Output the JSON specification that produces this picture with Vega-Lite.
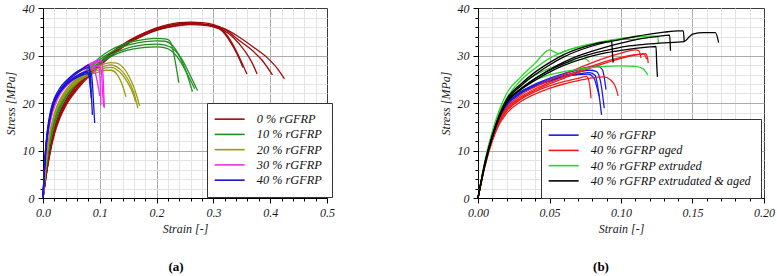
{
"$schema": "https://vega.github.io/schema/vega-lite/v6.json",
"background": "white",
"padding": {"left": 3, "top": 1, "right": 5, "bottom": 0},
"datasets": {
"a": [
{"s":"0 % rGFRP","c":"r1","x":0,"y":0},{"s":"0 % rGFRP","c":"r1","x":0.005,"y":4.6},{"s":"0 % rGFRP","c":"r1","x":0.01,"y":8.6},{"s":"0 % rGFRP","c":"r1","x":0.02,"y":14.4},{"s":"0 % rGFRP","c":"r1","x":0.03,"y":17.9},{"s":"0 % rGFRP","c":"r1","x":0.04,"y":20.3},{"s":"0 % rGFRP","c":"r1","x":0.06,"y":23.6},{"s":"0 % rGFRP","c":"r1","x":0.08,"y":26.1},{"s":"0 % rGFRP","c":"r1","x":0.1,"y":28.4},{"s":"0 % rGFRP","c":"r1","x":0.12,"y":30.4},{"s":"0 % rGFRP","c":"r1","x":0.14,"y":32.1},{"s":"0 % rGFRP","c":"r1","x":0.16,"y":33.5},{"s":"0 % rGFRP","c":"r1","x":0.18,"y":34.7},{"s":"0 % rGFRP","c":"r1","x":0.2,"y":35.6},{"s":"0 % rGFRP","c":"r1","x":0.22,"y":36.2},{"s":"0 % rGFRP","c":"r1","x":0.24,"y":36.6},{"s":"0 % rGFRP","c":"r1","x":0.26,"y":36.8},{"s":"0 % rGFRP","c":"r1","x":0.28,"y":36.6},{"s":"0 % rGFRP","c":"r1","x":0.3,"y":36},{"s":"0 % rGFRP","c":"r1","x":0.315,"y":35.2},{"s":"0 % rGFRP","c":"r1","x":0.33,"y":32.8},{"s":"0 % rGFRP","c":"r1","x":0.342,"y":30.2},{"s":"0 % rGFRP","c":"r1","x":0.352,"y":27.5},
{"s":"0 % rGFRP","c":"r2","x":0,"y":0},{"s":"0 % rGFRP","c":"r2","x":0.005,"y":4.4},{"s":"0 % rGFRP","c":"r2","x":0.01,"y":8.3},{"s":"0 % rGFRP","c":"r2","x":0.02,"y":14.0},{"s":"0 % rGFRP","c":"r2","x":0.03,"y":17.5},{"s":"0 % rGFRP","c":"r2","x":0.04,"y":19.9},{"s":"0 % rGFRP","c":"r2","x":0.06,"y":23.2},{"s":"0 % rGFRP","c":"r2","x":0.08,"y":25.8},{"s":"0 % rGFRP","c":"r2","x":0.1,"y":28.1},{"s":"0 % rGFRP","c":"r2","x":0.12,"y":30.1},{"s":"0 % rGFRP","c":"r2","x":0.14,"y":31.8},{"s":"0 % rGFRP","c":"r2","x":0.16,"y":33.2},{"s":"0 % rGFRP","c":"r2","x":0.18,"y":34.4},{"s":"0 % rGFRP","c":"r2","x":0.2,"y":35.3},{"s":"0 % rGFRP","c":"r2","x":0.22,"y":35.9},{"s":"0 % rGFRP","c":"r2","x":0.24,"y":36.3},{"s":"0 % rGFRP","c":"r2","x":0.26,"y":36.5},{"s":"0 % rGFRP","c":"r2","x":0.28,"y":36.4},{"s":"0 % rGFRP","c":"r2","x":0.3,"y":36.1},{"s":"0 % rGFRP","c":"r2","x":0.315,"y":35.4},{"s":"0 % rGFRP","c":"r2","x":0.33,"y":33.2},{"s":"0 % rGFRP","c":"r2","x":0.345,"y":29.8},{"s":"0 % rGFRP","c":"r2","x":0.359,"y":26.1},
{"s":"0 % rGFRP","c":"r3","x":0,"y":0},{"s":"0 % rGFRP","c":"r3","x":0.005,"y":4.7},{"s":"0 % rGFRP","c":"r3","x":0.01,"y":8.8},{"s":"0 % rGFRP","c":"r3","x":0.02,"y":14.7},{"s":"0 % rGFRP","c":"r3","x":0.03,"y":18.2},{"s":"0 % rGFRP","c":"r3","x":0.04,"y":20.6},{"s":"0 % rGFRP","c":"r3","x":0.06,"y":23.9},{"s":"0 % rGFRP","c":"r3","x":0.08,"y":26.4},{"s":"0 % rGFRP","c":"r3","x":0.1,"y":28.6},{"s":"0 % rGFRP","c":"r3","x":0.12,"y":30.6},{"s":"0 % rGFRP","c":"r3","x":0.14,"y":32.3},{"s":"0 % rGFRP","c":"r3","x":0.16,"y":33.7},{"s":"0 % rGFRP","c":"r3","x":0.18,"y":34.8},{"s":"0 % rGFRP","c":"r3","x":0.2,"y":35.7},{"s":"0 % rGFRP","c":"r3","x":0.22,"y":36.3},{"s":"0 % rGFRP","c":"r3","x":0.24,"y":36.7},{"s":"0 % rGFRP","c":"r3","x":0.26,"y":36.8},{"s":"0 % rGFRP","c":"r3","x":0.28,"y":36.6},{"s":"0 % rGFRP","c":"r3","x":0.3,"y":36.2},{"s":"0 % rGFRP","c":"r3","x":0.315,"y":35.5},{"s":"0 % rGFRP","c":"r3","x":0.335,"y":33.8},{"s":"0 % rGFRP","c":"r3","x":0.355,"y":31},{"s":"0 % rGFRP","c":"r3","x":0.368,"y":28.5},{"s":"0 % rGFRP","c":"r3","x":0.377,"y":26.1},
{"s":"0 % rGFRP","c":"r4","x":0,"y":0},{"s":"0 % rGFRP","c":"r4","x":0.005,"y":4.3},{"s":"0 % rGFRP","c":"r4","x":0.01,"y":8.1},{"s":"0 % rGFRP","c":"r4","x":0.02,"y":13.8},{"s":"0 % rGFRP","c":"r4","x":0.03,"y":17.3},{"s":"0 % rGFRP","c":"r4","x":0.04,"y":19.8},{"s":"0 % rGFRP","c":"r4","x":0.06,"y":23.2},{"s":"0 % rGFRP","c":"r4","x":0.08,"y":25.9},{"s":"0 % rGFRP","c":"r4","x":0.1,"y":28.2},{"s":"0 % rGFRP","c":"r4","x":0.12,"y":30.3},{"s":"0 % rGFRP","c":"r4","x":0.14,"y":32.1},{"s":"0 % rGFRP","c":"r4","x":0.16,"y":33.6},{"s":"0 % rGFRP","c":"r4","x":0.18,"y":34.8},{"s":"0 % rGFRP","c":"r4","x":0.2,"y":35.8},{"s":"0 % rGFRP","c":"r4","x":0.22,"y":36.5},{"s":"0 % rGFRP","c":"r4","x":0.24,"y":36.9},{"s":"0 % rGFRP","c":"r4","x":0.26,"y":37.0},{"s":"0 % rGFRP","c":"r4","x":0.28,"y":36.9},{"s":"0 % rGFRP","c":"r4","x":0.3,"y":36.5},{"s":"0 % rGFRP","c":"r4","x":0.32,"y":35.5},{"s":"0 % rGFRP","c":"r4","x":0.345,"y":33.2},{"s":"0 % rGFRP","c":"r4","x":0.365,"y":31.4},{"s":"0 % rGFRP","c":"r4","x":0.385,"y":29.1},{"s":"0 % rGFRP","c":"r4","x":0.404,"y":25.9},
{"s":"0 % rGFRP","c":"r5","x":0,"y":0},{"s":"0 % rGFRP","c":"r5","x":0.005,"y":4.2},{"s":"0 % rGFRP","c":"r5","x":0.01,"y":7.9},{"s":"0 % rGFRP","c":"r5","x":0.02,"y":13.4},{"s":"0 % rGFRP","c":"r5","x":0.03,"y":16.9},{"s":"0 % rGFRP","c":"r5","x":0.04,"y":19.4},{"s":"0 % rGFRP","c":"r5","x":0.06,"y":22.8},{"s":"0 % rGFRP","c":"r5","x":0.08,"y":25.5},{"s":"0 % rGFRP","c":"r5","x":0.1,"y":27.8},{"s":"0 % rGFRP","c":"r5","x":0.12,"y":29.9},{"s":"0 % rGFRP","c":"r5","x":0.14,"y":31.7},{"s":"0 % rGFRP","c":"r5","x":0.16,"y":33.2},{"s":"0 % rGFRP","c":"r5","x":0.18,"y":34.4},{"s":"0 % rGFRP","c":"r5","x":0.2,"y":35.4},{"s":"0 % rGFRP","c":"r5","x":0.22,"y":36.0},{"s":"0 % rGFRP","c":"r5","x":0.24,"y":36.4},{"s":"0 % rGFRP","c":"r5","x":0.26,"y":36.6},{"s":"0 % rGFRP","c":"r5","x":0.28,"y":36.6},{"s":"0 % rGFRP","c":"r5","x":0.3,"y":36.3},{"s":"0 % rGFRP","c":"r5","x":0.32,"y":35.6},{"s":"0 % rGFRP","c":"r5","x":0.345,"y":33.9},{"s":"0 % rGFRP","c":"r5","x":0.37,"y":31.8},{"s":"0 % rGFRP","c":"r5","x":0.395,"y":29.5},{"s":"0 % rGFRP","c":"r5","x":0.413,"y":27.2},{"s":"0 % rGFRP","c":"r5","x":0.425,"y":25.1},
{"s":"10 % rGFRP","c":"g1","x":0,"y":0},{"s":"10 % rGFRP","c":"g1","x":0.005,"y":6.3},{"s":"10 % rGFRP","c":"g1","x":0.01,"y":11},{"s":"10 % rGFRP","c":"g1","x":0.02,"y":16.5},{"s":"10 % rGFRP","c":"g1","x":0.03,"y":19.8},{"s":"10 % rGFRP","c":"g1","x":0.04,"y":22},{"s":"10 % rGFRP","c":"g1","x":0.06,"y":25},{"s":"10 % rGFRP","c":"g1","x":0.08,"y":27.4},{"s":"10 % rGFRP","c":"g1","x":0.1,"y":29.6},{"s":"10 % rGFRP","c":"g1","x":0.12,"y":31.2},{"s":"10 % rGFRP","c":"g1","x":0.14,"y":32.3},{"s":"10 % rGFRP","c":"g1","x":0.16,"y":33},{"s":"10 % rGFRP","c":"g1","x":0.18,"y":33.4},{"s":"10 % rGFRP","c":"g1","x":0.2,"y":33.6},{"s":"10 % rGFRP","c":"g1","x":0.215,"y":33.5},{"s":"10 % rGFRP","c":"g1","x":0.222,"y":33.2},{"s":"10 % rGFRP","c":"g1","x":0.228,"y":31.6},{"s":"10 % rGFRP","c":"g1","x":0.233,"y":28.6},{"s":"10 % rGFRP","c":"g1","x":0.239,"y":24.3},
{"s":"10 % rGFRP","c":"g2","x":0,"y":0},{"s":"10 % rGFRP","c":"g2","x":0.005,"y":6},{"s":"10 % rGFRP","c":"g2","x":0.01,"y":10.6},{"s":"10 % rGFRP","c":"g2","x":0.02,"y":16},{"s":"10 % rGFRP","c":"g2","x":0.03,"y":19.3},{"s":"10 % rGFRP","c":"g2","x":0.04,"y":21.5},{"s":"10 % rGFRP","c":"g2","x":0.06,"y":24.6},{"s":"10 % rGFRP","c":"g2","x":0.08,"y":27},{"s":"10 % rGFRP","c":"g2","x":0.1,"y":29.1},{"s":"10 % rGFRP","c":"g2","x":0.12,"y":30.7},{"s":"10 % rGFRP","c":"g2","x":0.14,"y":31.8},{"s":"10 % rGFRP","c":"g2","x":0.16,"y":32.5},{"s":"10 % rGFRP","c":"g2","x":0.18,"y":32.9},{"s":"10 % rGFRP","c":"g2","x":0.2,"y":33.1},{"s":"10 % rGFRP","c":"g2","x":0.215,"y":33},{"s":"10 % rGFRP","c":"g2","x":0.228,"y":32.1},{"s":"10 % rGFRP","c":"g2","x":0.24,"y":29.9},{"s":"10 % rGFRP","c":"g2","x":0.252,"y":26.6},{"s":"10 % rGFRP","c":"g2","x":0.263,"y":22.4},
{"s":"10 % rGFRP","c":"g3","x":0,"y":0},{"s":"10 % rGFRP","c":"g3","x":0.005,"y":5.7},{"s":"10 % rGFRP","c":"g3","x":0.01,"y":10.2},{"s":"10 % rGFRP","c":"g3","x":0.02,"y":15.5},{"s":"10 % rGFRP","c":"g3","x":0.03,"y":18.8},{"s":"10 % rGFRP","c":"g3","x":0.04,"y":21.1},{"s":"10 % rGFRP","c":"g3","x":0.06,"y":24.2},{"s":"10 % rGFRP","c":"g3","x":0.08,"y":26.6},{"s":"10 % rGFRP","c":"g3","x":0.1,"y":28.7},{"s":"10 % rGFRP","c":"g3","x":0.12,"y":30.2},{"s":"10 % rGFRP","c":"g3","x":0.14,"y":31.2},{"s":"10 % rGFRP","c":"g3","x":0.16,"y":31.9},{"s":"10 % rGFRP","c":"g3","x":0.18,"y":32.3},{"s":"10 % rGFRP","c":"g3","x":0.2,"y":32.4},{"s":"10 % rGFRP","c":"g3","x":0.215,"y":32.2},{"s":"10 % rGFRP","c":"g3","x":0.23,"y":31.3},{"s":"10 % rGFRP","c":"g3","x":0.243,"y":29.5},{"s":"10 % rGFRP","c":"g3","x":0.258,"y":26.1},{"s":"10 % rGFRP","c":"g3","x":0.272,"y":22.6},
{"s":"10 % rGFRP","c":"g4","x":0,"y":0},{"s":"10 % rGFRP","c":"g4","x":0.005,"y":5.9},{"s":"10 % rGFRP","c":"g4","x":0.01,"y":10.4},{"s":"10 % rGFRP","c":"g4","x":0.02,"y":15.8},{"s":"10 % rGFRP","c":"g4","x":0.03,"y":19},{"s":"10 % rGFRP","c":"g4","x":0.04,"y":21.3},{"s":"10 % rGFRP","c":"g4","x":0.06,"y":24.3},{"s":"10 % rGFRP","c":"g4","x":0.08,"y":26.5},{"s":"10 % rGFRP","c":"g4","x":0.1,"y":28.4},{"s":"10 % rGFRP","c":"g4","x":0.12,"y":29.8},{"s":"10 % rGFRP","c":"g4","x":0.14,"y":30.8},{"s":"10 % rGFRP","c":"g4","x":0.16,"y":31.4},{"s":"10 % rGFRP","c":"g4","x":0.18,"y":31.7},{"s":"10 % rGFRP","c":"g4","x":0.2,"y":31.8},{"s":"10 % rGFRP","c":"g4","x":0.215,"y":31.6},{"s":"10 % rGFRP","c":"g4","x":0.228,"y":30.8},{"s":"10 % rGFRP","c":"g4","x":0.24,"y":29.1},{"s":"10 % rGFRP","c":"g4","x":0.255,"y":25.9},{"s":"10 % rGFRP","c":"g4","x":0.267,"y":23},
{"s":"20 % rGFRP","c":"o1","x":0,"y":0},{"s":"20 % rGFRP","c":"o1","x":0.005,"y":7.2},{"s":"20 % rGFRP","c":"o1","x":0.01,"y":12.3},{"s":"20 % rGFRP","c":"o1","x":0.02,"y":17.8},{"s":"20 % rGFRP","c":"o1","x":0.03,"y":20.8},{"s":"20 % rGFRP","c":"o1","x":0.04,"y":22.7},{"s":"20 % rGFRP","c":"o1","x":0.06,"y":25.3},{"s":"20 % rGFRP","c":"o1","x":0.08,"y":27},{"s":"20 % rGFRP","c":"o1","x":0.1,"y":27.9},{"s":"20 % rGFRP","c":"o1","x":0.11,"y":28.3},{"s":"20 % rGFRP","c":"o1","x":0.12,"y":28.5},{"s":"20 % rGFRP","c":"o1","x":0.13,"y":28.4},{"s":"20 % rGFRP","c":"o1","x":0.14,"y":27.6},{"s":"20 % rGFRP","c":"o1","x":0.15,"y":25.9},{"s":"20 % rGFRP","c":"o1","x":0.16,"y":23.3},{"s":"20 % rGFRP","c":"o1","x":0.166,"y":21.1},{"s":"20 % rGFRP","c":"o1","x":0.17,"y":19.4},
{"s":"20 % rGFRP","c":"o2","x":0,"y":0},{"s":"20 % rGFRP","c":"o2","x":0.005,"y":7},{"s":"20 % rGFRP","c":"o2","x":0.01,"y":12},{"s":"20 % rGFRP","c":"o2","x":0.02,"y":17.5},{"s":"20 % rGFRP","c":"o2","x":0.03,"y":20.5},{"s":"20 % rGFRP","c":"o2","x":0.04,"y":22.4},{"s":"20 % rGFRP","c":"o2","x":0.06,"y":24.9},{"s":"20 % rGFRP","c":"o2","x":0.08,"y":26.6},{"s":"20 % rGFRP","c":"o2","x":0.1,"y":27.4},{"s":"20 % rGFRP","c":"o2","x":0.11,"y":27.8},{"s":"20 % rGFRP","c":"o2","x":0.12,"y":28},{"s":"20 % rGFRP","c":"o2","x":0.13,"y":27.6},{"s":"20 % rGFRP","c":"o2","x":0.14,"y":26.6},{"s":"20 % rGFRP","c":"o2","x":0.15,"y":24.9},{"s":"20 % rGFRP","c":"o2","x":0.16,"y":22.1},{"s":"20 % rGFRP","c":"o2","x":0.167,"y":18.9},
{"s":"20 % rGFRP","c":"o3","x":0,"y":0},{"s":"20 % rGFRP","c":"o3","x":0.005,"y":6.8},{"s":"20 % rGFRP","c":"o3","x":0.01,"y":11.7},{"s":"20 % rGFRP","c":"o3","x":0.02,"y":17.1},{"s":"20 % rGFRP","c":"o3","x":0.03,"y":20},{"s":"20 % rGFRP","c":"o3","x":0.04,"y":21.9},{"s":"20 % rGFRP","c":"o3","x":0.06,"y":24.3},{"s":"20 % rGFRP","c":"o3","x":0.08,"y":25.8},{"s":"20 % rGFRP","c":"o3","x":0.1,"y":26.6},{"s":"20 % rGFRP","c":"o3","x":0.11,"y":26.9},{"s":"20 % rGFRP","c":"o3","x":0.12,"y":26.9},{"s":"20 % rGFRP","c":"o3","x":0.13,"y":26.1},{"s":"20 % rGFRP","c":"o3","x":0.138,"y":24.3},{"s":"20 % rGFRP","c":"o3","x":0.146,"y":21.3},
{"s":"20 % rGFRP","c":"o4","x":0,"y":0},{"s":"20 % rGFRP","c":"o4","x":0.005,"y":6.9},{"s":"20 % rGFRP","c":"o4","x":0.01,"y":11.9},{"s":"20 % rGFRP","c":"o4","x":0.02,"y":17.3},{"s":"20 % rGFRP","c":"o4","x":0.03,"y":20.3},{"s":"20 % rGFRP","c":"o4","x":0.04,"y":22.2},{"s":"20 % rGFRP","c":"o4","x":0.06,"y":24.6},{"s":"20 % rGFRP","c":"o4","x":0.08,"y":26.2},{"s":"20 % rGFRP","c":"o4","x":0.1,"y":27},{"s":"20 % rGFRP","c":"o4","x":0.11,"y":27.4},{"s":"20 % rGFRP","c":"o4","x":0.12,"y":27.5},{"s":"20 % rGFRP","c":"o4","x":0.13,"y":27},{"s":"20 % rGFRP","c":"o4","x":0.14,"y":25.9},{"s":"20 % rGFRP","c":"o4","x":0.15,"y":24.1},{"s":"20 % rGFRP","c":"o4","x":0.158,"y":22.1},{"s":"20 % rGFRP","c":"o4","x":0.163,"y":20.3},
{"s":"30 % rGFRP","c":"m1","x":0,"y":0},{"s":"30 % rGFRP","c":"m1","x":0.004,"y":8},{"s":"30 % rGFRP","c":"m1","x":0.008,"y":13},{"s":"30 % rGFRP","c":"m1","x":0.015,"y":17.6},{"s":"30 % rGFRP","c":"m1","x":0.02,"y":19.6},{"s":"30 % rGFRP","c":"m1","x":0.03,"y":22.2},{"s":"30 % rGFRP","c":"m1","x":0.04,"y":23.9},{"s":"30 % rGFRP","c":"m1","x":0.05,"y":25.2},{"s":"30 % rGFRP","c":"m1","x":0.06,"y":26.3},{"s":"30 % rGFRP","c":"m1","x":0.07,"y":27.3},{"s":"30 % rGFRP","c":"m1","x":0.08,"y":28.1},{"s":"30 % rGFRP","c":"m1","x":0.09,"y":28.7},{"s":"30 % rGFRP","c":"m1","x":0.1,"y":29},{"s":"30 % rGFRP","c":"m1","x":0.104,"y":28.6},{"s":"30 % rGFRP","c":"m1","x":0.106,"y":25},{"s":"30 % rGFRP","c":"m1","x":0.108,"y":19},
{"s":"30 % rGFRP","c":"m2","x":0,"y":0},{"s":"30 % rGFRP","c":"m2","x":0.004,"y":8.2},{"s":"30 % rGFRP","c":"m2","x":0.008,"y":13.3},{"s":"30 % rGFRP","c":"m2","x":0.015,"y":17.9},{"s":"30 % rGFRP","c":"m2","x":0.02,"y":19.9},{"s":"30 % rGFRP","c":"m2","x":0.03,"y":22.4},{"s":"30 % rGFRP","c":"m2","x":0.04,"y":24},{"s":"30 % rGFRP","c":"m2","x":0.05,"y":25.3},{"s":"30 % rGFRP","c":"m2","x":0.06,"y":26.3},{"s":"30 % rGFRP","c":"m2","x":0.07,"y":27.2},{"s":"30 % rGFRP","c":"m2","x":0.08,"y":27.9},{"s":"30 % rGFRP","c":"m2","x":0.09,"y":28.4},{"s":"30 % rGFRP","c":"m2","x":0.097,"y":28.5},{"s":"30 % rGFRP","c":"m2","x":0.1,"y":26},{"s":"30 % rGFRP","c":"m2","x":0.102,"y":19.5},
{"s":"30 % rGFRP","c":"m3","x":0,"y":0},{"s":"30 % rGFRP","c":"m3","x":0.004,"y":7.8},{"s":"30 % rGFRP","c":"m3","x":0.008,"y":12.7},{"s":"30 % rGFRP","c":"m3","x":0.015,"y":17.2},{"s":"30 % rGFRP","c":"m3","x":0.02,"y":19.2},{"s":"30 % rGFRP","c":"m3","x":0.03,"y":21.8},{"s":"30 % rGFRP","c":"m3","x":0.04,"y":23.4},{"s":"30 % rGFRP","c":"m3","x":0.05,"y":24.6},{"s":"30 % rGFRP","c":"m3","x":0.06,"y":25.6},{"s":"30 % rGFRP","c":"m3","x":0.07,"y":26.4},{"s":"30 % rGFRP","c":"m3","x":0.08,"y":27.1},{"s":"30 % rGFRP","c":"m3","x":0.09,"y":27.6},{"s":"30 % rGFRP","c":"m3","x":0.098,"y":27.8},{"s":"30 % rGFRP","c":"m3","x":0.103,"y":26.5},{"s":"30 % rGFRP","c":"m3","x":0.105,"y":22},{"s":"30 % rGFRP","c":"m3","x":0.107,"y":19.2},
{"s":"30 % rGFRP","c":"m4","x":0,"y":0},{"s":"30 % rGFRP","c":"m4","x":0.004,"y":8.4},{"s":"30 % rGFRP","c":"m4","x":0.008,"y":13.6},{"s":"30 % rGFRP","c":"m4","x":0.015,"y":18.2},{"s":"30 % rGFRP","c":"m4","x":0.02,"y":20.1},{"s":"30 % rGFRP","c":"m4","x":0.03,"y":22.6},{"s":"30 % rGFRP","c":"m4","x":0.04,"y":24.2},{"s":"30 % rGFRP","c":"m4","x":0.05,"y":25.4},{"s":"30 % rGFRP","c":"m4","x":0.06,"y":26.4},{"s":"30 % rGFRP","c":"m4","x":0.07,"y":27.2},{"s":"30 % rGFRP","c":"m4","x":0.08,"y":27.8},{"s":"30 % rGFRP","c":"m4","x":0.086,"y":28},{"s":"30 % rGFRP","c":"m4","x":0.09,"y":27.2},{"s":"30 % rGFRP","c":"m4","x":0.095,"y":24.8},{"s":"30 % rGFRP","c":"m4","x":0.1,"y":21.5},
{"s":"40 % rGFRP","c":"b1","x":0,"y":0},{"s":"40 % rGFRP","c":"b1","x":0.002,"y":5},{"s":"40 % rGFRP","c":"b1","x":0.005,"y":10.5},{"s":"40 % rGFRP","c":"b1","x":0.01,"y":15.5},{"s":"40 % rGFRP","c":"b1","x":0.015,"y":18.5},{"s":"40 % rGFRP","c":"b1","x":0.02,"y":20.4},{"s":"40 % rGFRP","c":"b1","x":0.03,"y":22.7},{"s":"40 % rGFRP","c":"b1","x":0.04,"y":24.2},{"s":"40 % rGFRP","c":"b1","x":0.05,"y":25.4},{"s":"40 % rGFRP","c":"b1","x":0.06,"y":26.3},{"s":"40 % rGFRP","c":"b1","x":0.07,"y":27},{"s":"40 % rGFRP","c":"b1","x":0.075,"y":27.3},{"s":"40 % rGFRP","c":"b1","x":0.08,"y":27.5},{"s":"40 % rGFRP","c":"b1","x":0.083,"y":26.5},{"s":"40 % rGFRP","c":"b1","x":0.085,"y":22},{"s":"40 % rGFRP","c":"b1","x":0.087,"y":17.5},
{"s":"40 % rGFRP","c":"b2","x":0,"y":0},{"s":"40 % rGFRP","c":"b2","x":0.002,"y":4.8},{"s":"40 % rGFRP","c":"b2","x":0.005,"y":10.2},{"s":"40 % rGFRP","c":"b2","x":0.01,"y":15.1},{"s":"40 % rGFRP","c":"b2","x":0.015,"y":18.1},{"s":"40 % rGFRP","c":"b2","x":0.02,"y":20},{"s":"40 % rGFRP","c":"b2","x":0.03,"y":22.3},{"s":"40 % rGFRP","c":"b2","x":0.04,"y":23.8},{"s":"40 % rGFRP","c":"b2","x":0.05,"y":24.9},{"s":"40 % rGFRP","c":"b2","x":0.06,"y":25.8},{"s":"40 % rGFRP","c":"b2","x":0.07,"y":26.4},{"s":"40 % rGFRP","c":"b2","x":0.075,"y":26.6},{"s":"40 % rGFRP","c":"b2","x":0.082,"y":26.8},{"s":"40 % rGFRP","c":"b2","x":0.086,"y":25.5},{"s":"40 % rGFRP","c":"b2","x":0.089,"y":20},{"s":"40 % rGFRP","c":"b2","x":0.091,"y":15.8},
{"s":"40 % rGFRP","c":"b3","x":0,"y":0},{"s":"40 % rGFRP","c":"b3","x":0.002,"y":5.2},{"s":"40 % rGFRP","c":"b3","x":0.005,"y":10.8},{"s":"40 % rGFRP","c":"b3","x":0.01,"y":15.8},{"s":"40 % rGFRP","c":"b3","x":0.015,"y":18.8},{"s":"40 % rGFRP","c":"b3","x":0.02,"y":20.6},{"s":"40 % rGFRP","c":"b3","x":0.03,"y":22.6},{"s":"40 % rGFRP","c":"b3","x":0.04,"y":23.9},{"s":"40 % rGFRP","c":"b3","x":0.05,"y":24.9},{"s":"40 % rGFRP","c":"b3","x":0.06,"y":25.7},{"s":"40 % rGFRP","c":"b3","x":0.07,"y":26.2},{"s":"40 % rGFRP","c":"b3","x":0.076,"y":26.5},{"s":"40 % rGFRP","c":"b3","x":0.08,"y":26.3},{"s":"40 % rGFRP","c":"b3","x":0.083,"y":24},{"s":"40 % rGFRP","c":"b3","x":0.085,"y":21},
{"s":"40 % rGFRP","c":"b4","x":0,"y":0},{"s":"40 % rGFRP","c":"b4","x":0.002,"y":5.4},{"s":"40 % rGFRP","c":"b4","x":0.005,"y":11.1},{"s":"40 % rGFRP","c":"b4","x":0.01,"y":16.2},{"s":"40 % rGFRP","c":"b4","x":0.015,"y":19.2},{"s":"40 % rGFRP","c":"b4","x":0.02,"y":21},{"s":"40 % rGFRP","c":"b4","x":0.03,"y":23.2},{"s":"40 % rGFRP","c":"b4","x":0.04,"y":24.6},{"s":"40 % rGFRP","c":"b4","x":0.05,"y":25.7},{"s":"40 % rGFRP","c":"b4","x":0.06,"y":26.6},{"s":"40 % rGFRP","c":"b4","x":0.07,"y":27.3},{"s":"40 % rGFRP","c":"b4","x":0.075,"y":27.7},{"s":"40 % rGFRP","c":"b4","x":0.08,"y":28},{"s":"40 % rGFRP","c":"b4","x":0.082,"y":27},{"s":"40 % rGFRP","c":"b4","x":0.084,"y":24},
{"s":"40 % rGFRP","c":"b5","x":0,"y":0},{"s":"40 % rGFRP","c":"b5","x":0.002,"y":4.9},{"s":"40 % rGFRP","c":"b5","x":0.005,"y":10.3},{"s":"40 % rGFRP","c":"b5","x":0.01,"y":15.3},{"s":"40 % rGFRP","c":"b5","x":0.015,"y":18.3},{"s":"40 % rGFRP","c":"b5","x":0.02,"y":20.2},{"s":"40 % rGFRP","c":"b5","x":0.03,"y":22.3},{"s":"40 % rGFRP","c":"b5","x":0.04,"y":23.7},{"s":"40 % rGFRP","c":"b5","x":0.05,"y":24.7},{"s":"40 % rGFRP","c":"b5","x":0.06,"y":25.4},{"s":"40 % rGFRP","c":"b5","x":0.07,"y":25.9},{"s":"40 % rGFRP","c":"b5","x":0.078,"y":26.2},{"s":"40 % rGFRP","c":"b5","x":0.082,"y":25},{"s":"40 % rGFRP","c":"b5","x":0.084,"y":22.5}
],
"b": [
{"s":"40 % rGFRP","c":"p1","x":0,"y":0},{"s":"40 % rGFRP","c":"p1","x":0.005,"y":7.6},{"s":"40 % rGFRP","c":"p1","x":0.01,"y":13.2},{"s":"40 % rGFRP","c":"p1","x":0.015,"y":17.2},{"s":"40 % rGFRP","c":"p1","x":0.02,"y":19.8},{"s":"40 % rGFRP","c":"p1","x":0.03,"y":22.4},{"s":"40 % rGFRP","c":"p1","x":0.04,"y":24},{"s":"40 % rGFRP","c":"p1","x":0.05,"y":25.2},{"s":"40 % rGFRP","c":"p1","x":0.06,"y":26.2},{"s":"40 % rGFRP","c":"p1","x":0.07,"y":27},{"s":"40 % rGFRP","c":"p1","x":0.078,"y":27.6},{"s":"40 % rGFRP","c":"p1","x":0.084,"y":27.7},{"s":"40 % rGFRP","c":"p1","x":0.087,"y":27},{"s":"40 % rGFRP","c":"p1","x":0.0885,"y":25},{"s":"40 % rGFRP","c":"p1","x":0.0895,"y":22.8},
{"s":"40 % rGFRP","c":"p2","x":0,"y":0},{"s":"40 % rGFRP","c":"p2","x":0.005,"y":7.5},{"s":"40 % rGFRP","c":"p2","x":0.01,"y":13},{"s":"40 % rGFRP","c":"p2","x":0.015,"y":17},{"s":"40 % rGFRP","c":"p2","x":0.02,"y":19.6},{"s":"40 % rGFRP","c":"p2","x":0.03,"y":22.2},{"s":"40 % rGFRP","c":"p2","x":0.04,"y":23.8},{"s":"40 % rGFRP","c":"p2","x":0.05,"y":24.9},{"s":"40 % rGFRP","c":"p2","x":0.06,"y":25.8},{"s":"40 % rGFRP","c":"p2","x":0.07,"y":26.5},{"s":"40 % rGFRP","c":"p2","x":0.078,"y":26.9},{"s":"40 % rGFRP","c":"p2","x":0.083,"y":26.6},{"s":"40 % rGFRP","c":"p2","x":0.086,"y":24},{"s":"40 % rGFRP","c":"p2","x":0.0883,"y":18.9},
{"s":"40 % rGFRP","c":"p3","x":0,"y":0},{"s":"40 % rGFRP","c":"p3","x":0.005,"y":7.4},{"s":"40 % rGFRP","c":"p3","x":0.01,"y":12.9},{"s":"40 % rGFRP","c":"p3","x":0.015,"y":16.8},{"s":"40 % rGFRP","c":"p3","x":0.02,"y":19.4},{"s":"40 % rGFRP","c":"p3","x":0.03,"y":22},{"s":"40 % rGFRP","c":"p3","x":0.04,"y":23.5},{"s":"40 % rGFRP","c":"p3","x":0.05,"y":24.6},{"s":"40 % rGFRP","c":"p3","x":0.06,"y":25.5},{"s":"40 % rGFRP","c":"p3","x":0.07,"y":26.1},{"s":"40 % rGFRP","c":"p3","x":0.078,"y":26.4},{"s":"40 % rGFRP","c":"p3","x":0.082,"y":25.8},{"s":"40 % rGFRP","c":"p3","x":0.084,"y":23},{"s":"40 % rGFRP","c":"p3","x":0.0864,"y":17.5},
{"s":"40 % rGFRP","c":"p4","x":0,"y":0},{"s":"40 % rGFRP","c":"p4","x":0.005,"y":7.5},{"s":"40 % rGFRP","c":"p4","x":0.01,"y":13},{"s":"40 % rGFRP","c":"p4","x":0.015,"y":16.9},{"s":"40 % rGFRP","c":"p4","x":0.02,"y":19.5},{"s":"40 % rGFRP","c":"p4","x":0.03,"y":22.1},{"s":"40 % rGFRP","c":"p4","x":0.04,"y":23.6},{"s":"40 % rGFRP","c":"p4","x":0.05,"y":24.7},{"s":"40 % rGFRP","c":"p4","x":0.06,"y":25.5},{"s":"40 % rGFRP","c":"p4","x":0.07,"y":26},{"s":"40 % rGFRP","c":"p4","x":0.077,"y":26.1},{"s":"40 % rGFRP","c":"p4","x":0.081,"y":25.3},{"s":"40 % rGFRP","c":"p4","x":0.083,"y":23.5},{"s":"40 % rGFRP","c":"p4","x":0.0848,"y":21.4},
{"s":"40 % rGFRP aged","c":"a1","x":0,"y":0},{"s":"40 % rGFRP aged","c":"a1","x":0.005,"y":7},{"s":"40 % rGFRP aged","c":"a1","x":0.01,"y":12.3},{"s":"40 % rGFRP aged","c":"a1","x":0.015,"y":16},{"s":"40 % rGFRP aged","c":"a1","x":0.02,"y":18.3},{"s":"40 % rGFRP aged","c":"a1","x":0.03,"y":20.8},{"s":"40 % rGFRP aged","c":"a1","x":0.04,"y":22.4},{"s":"40 % rGFRP aged","c":"a1","x":0.05,"y":23.6},{"s":"40 % rGFRP aged","c":"a1","x":0.06,"y":24.5},{"s":"40 % rGFRP aged","c":"a1","x":0.07,"y":25.2},{"s":"40 % rGFRP aged","c":"a1","x":0.076,"y":25.6},{"s":"40 % rGFRP aged","c":"a1","x":0.078,"y":24},{"s":"40 % rGFRP aged","c":"a1","x":0.079,"y":21},
{"s":"40 % rGFRP aged","c":"a2","x":0,"y":0},{"s":"40 % rGFRP aged","c":"a2","x":0.005,"y":6.9},{"s":"40 % rGFRP aged","c":"a2","x":0.01,"y":12},{"s":"40 % rGFRP aged","c":"a2","x":0.015,"y":15.6},{"s":"40 % rGFRP aged","c":"a2","x":0.02,"y":17.8},{"s":"40 % rGFRP aged","c":"a2","x":0.03,"y":20.3},{"s":"40 % rGFRP aged","c":"a2","x":0.04,"y":21.9},{"s":"40 % rGFRP aged","c":"a2","x":0.05,"y":23.1},{"s":"40 % rGFRP aged","c":"a2","x":0.06,"y":24},{"s":"40 % rGFRP aged","c":"a2","x":0.07,"y":24.7},{"s":"40 % rGFRP aged","c":"a2","x":0.08,"y":25.3},{"s":"40 % rGFRP aged","c":"a2","x":0.088,"y":25.5},{"s":"40 % rGFRP aged","c":"a2","x":0.093,"y":24.8},{"s":"40 % rGFRP aged","c":"a2","x":0.096,"y":23.5},{"s":"40 % rGFRP aged","c":"a2","x":0.098,"y":21.5},
{"s":"40 % rGFRP aged","c":"a3","x":0,"y":0},{"s":"40 % rGFRP aged","c":"a3","x":0.005,"y":7.2},{"s":"40 % rGFRP aged","c":"a3","x":0.01,"y":12.6},{"s":"40 % rGFRP aged","c":"a3","x":0.015,"y":16.5},{"s":"40 % rGFRP aged","c":"a3","x":0.02,"y":19},{"s":"40 % rGFRP aged","c":"a3","x":0.03,"y":21.7},{"s":"40 % rGFRP aged","c":"a3","x":0.04,"y":23.4},{"s":"40 % rGFRP aged","c":"a3","x":0.05,"y":24.8},{"s":"40 % rGFRP aged","c":"a3","x":0.06,"y":26},{"s":"40 % rGFRP aged","c":"a3","x":0.07,"y":27.3},{"s":"40 % rGFRP aged","c":"a3","x":0.08,"y":28.5},{"s":"40 % rGFRP aged","c":"a3","x":0.09,"y":29.6},{"s":"40 % rGFRP aged","c":"a3","x":0.1,"y":30.5},{"s":"40 % rGFRP aged","c":"a3","x":0.11,"y":31.2},{"s":"40 % rGFRP aged","c":"a3","x":0.1125,"y":31},{"s":"40 % rGFRP aged","c":"a3","x":0.114,"y":29.5},
{"s":"40 % rGFRP aged","c":"a4","x":0,"y":0},{"s":"40 % rGFRP aged","c":"a4","x":0.005,"y":7.1},{"s":"40 % rGFRP aged","c":"a4","x":0.01,"y":12.4},{"s":"40 % rGFRP aged","c":"a4","x":0.015,"y":16.2},{"s":"40 % rGFRP aged","c":"a4","x":0.02,"y":18.7},{"s":"40 % rGFRP aged","c":"a4","x":0.03,"y":21.3},{"s":"40 % rGFRP aged","c":"a4","x":0.04,"y":23},{"s":"40 % rGFRP aged","c":"a4","x":0.05,"y":24.3},{"s":"40 % rGFRP aged","c":"a4","x":0.06,"y":25.5},{"s":"40 % rGFRP aged","c":"a4","x":0.07,"y":26.7},{"s":"40 % rGFRP aged","c":"a4","x":0.08,"y":27.8},{"s":"40 % rGFRP aged","c":"a4","x":0.09,"y":28.8},{"s":"40 % rGFRP aged","c":"a4","x":0.1,"y":29.6},{"s":"40 % rGFRP aged","c":"a4","x":0.11,"y":30.2},{"s":"40 % rGFRP aged","c":"a4","x":0.116,"y":30.3},{"s":"40 % rGFRP aged","c":"a4","x":0.118,"y":29.2},
{"s":"40 % rGFRP aged","c":"a5","x":0,"y":0},{"s":"40 % rGFRP aged","c":"a5","x":0.005,"y":7},{"s":"40 % rGFRP aged","c":"a5","x":0.01,"y":12.2},{"s":"40 % rGFRP aged","c":"a5","x":0.015,"y":16},{"s":"40 % rGFRP aged","c":"a5","x":0.02,"y":18.5},{"s":"40 % rGFRP aged","c":"a5","x":0.03,"y":21},{"s":"40 % rGFRP aged","c":"a5","x":0.04,"y":22.7},{"s":"40 % rGFRP aged","c":"a5","x":0.05,"y":24},{"s":"40 % rGFRP aged","c":"a5","x":0.06,"y":25.2},{"s":"40 % rGFRP aged","c":"a5","x":0.07,"y":26.4},{"s":"40 % rGFRP aged","c":"a5","x":0.08,"y":27.5},{"s":"40 % rGFRP aged","c":"a5","x":0.09,"y":28.5},{"s":"40 % rGFRP aged","c":"a5","x":0.1,"y":29.4},{"s":"40 % rGFRP aged","c":"a5","x":0.11,"y":30.1},{"s":"40 % rGFRP aged","c":"a5","x":0.117,"y":30.4},{"s":"40 % rGFRP aged","c":"a5","x":0.1185,"y":29.6},{"s":"40 % rGFRP aged","c":"a5","x":0.119,"y":28.4},
{"s":"40 % rGFRP extruded","c":"e1","x":0,"y":0},{"s":"40 % rGFRP extruded","c":"e1","x":0.005,"y":8},{"s":"40 % rGFRP extruded","c":"e1","x":0.01,"y":14},{"s":"40 % rGFRP extruded","c":"e1","x":0.015,"y":18.6},{"s":"40 % rGFRP extruded","c":"e1","x":0.02,"y":22},{"s":"40 % rGFRP extruded","c":"e1","x":0.03,"y":25.5},{"s":"40 % rGFRP extruded","c":"e1","x":0.04,"y":28.4},{"s":"40 % rGFRP extruded","c":"e1","x":0.05,"y":31.2},{"s":"40 % rGFRP extruded","c":"e1","x":0.053,"y":30.8},{"s":"40 % rGFRP extruded","c":"e1","x":0.057,"y":30.4},{"s":"40 % rGFRP extruded","c":"e1","x":0.06,"y":30.8},{"s":"40 % rGFRP extruded","c":"e1","x":0.07,"y":31.7},{"s":"40 % rGFRP extruded","c":"e1","x":0.08,"y":32.4},{"s":"40 % rGFRP extruded","c":"e1","x":0.09,"y":33},{"s":"40 % rGFRP extruded","c":"e1","x":0.1,"y":33.4},{"s":"40 % rGFRP extruded","c":"e1","x":0.113,"y":33.4},
{"s":"40 % rGFRP extruded","c":"e2","x":0,"y":0},{"s":"40 % rGFRP extruded","c":"e2","x":0.005,"y":7.8},{"s":"40 % rGFRP extruded","c":"e2","x":0.01,"y":13.6},{"s":"40 % rGFRP extruded","c":"e2","x":0.015,"y":18},{"s":"40 % rGFRP extruded","c":"e2","x":0.02,"y":21},{"s":"40 % rGFRP extruded","c":"e2","x":0.03,"y":24.8},{"s":"40 % rGFRP extruded","c":"e2","x":0.04,"y":27.3},{"s":"40 % rGFRP extruded","c":"e2","x":0.05,"y":29.4},{"s":"40 % rGFRP extruded","c":"e2","x":0.06,"y":30.8},{"s":"40 % rGFRP extruded","c":"e2","x":0.07,"y":31.8},{"s":"40 % rGFRP extruded","c":"e2","x":0.08,"y":32.5},{"s":"40 % rGFRP extruded","c":"e2","x":0.09,"y":33.1},{"s":"40 % rGFRP extruded","c":"e2","x":0.1,"y":33.6},{"s":"40 % rGFRP extruded","c":"e2","x":0.11,"y":33.9},{"s":"40 % rGFRP extruded","c":"e2","x":0.12,"y":34.1},{"s":"40 % rGFRP extruded","c":"e2","x":0.1256,"y":34.1},{"s":"40 % rGFRP extruded","c":"e2","x":0.1262,"y":32.6},
{"s":"40 % rGFRP extruded","c":"e3","x":0,"y":0},{"s":"40 % rGFRP extruded","c":"e3","x":0.005,"y":7.6},{"s":"40 % rGFRP extruded","c":"e3","x":0.01,"y":13.2},{"s":"40 % rGFRP extruded","c":"e3","x":0.015,"y":17.6},{"s":"40 % rGFRP extruded","c":"e3","x":0.02,"y":20.6},{"s":"40 % rGFRP extruded","c":"e3","x":0.03,"y":23.9},{"s":"40 % rGFRP extruded","c":"e3","x":0.04,"y":25.9},{"s":"40 % rGFRP extruded","c":"e3","x":0.05,"y":27.3},{"s":"40 % rGFRP extruded","c":"e3","x":0.06,"y":28.3},{"s":"40 % rGFRP extruded","c":"e3","x":0.07,"y":29},{"s":"40 % rGFRP extruded","c":"e3","x":0.075,"y":29.3},{"s":"40 % rGFRP extruded","c":"e3","x":0.078,"y":28.6},
{"s":"40 % rGFRP extruded","c":"e4","x":0,"y":0},{"s":"40 % rGFRP extruded","c":"e4","x":0.005,"y":7.5},{"s":"40 % rGFRP extruded","c":"e4","x":0.01,"y":13},{"s":"40 % rGFRP extruded","c":"e4","x":0.015,"y":17.3},{"s":"40 % rGFRP extruded","c":"e4","x":0.02,"y":20.3},{"s":"40 % rGFRP extruded","c":"e4","x":0.03,"y":23},{"s":"40 % rGFRP extruded","c":"e4","x":0.04,"y":24.8},{"s":"40 % rGFRP extruded","c":"e4","x":0.05,"y":25.9},{"s":"40 % rGFRP extruded","c":"e4","x":0.06,"y":26.6},{"s":"40 % rGFRP extruded","c":"e4","x":0.07,"y":27.1},{"s":"40 % rGFRP extruded","c":"e4","x":0.08,"y":27.5},{"s":"40 % rGFRP extruded","c":"e4","x":0.09,"y":27.7},{"s":"40 % rGFRP extruded","c":"e4","x":0.1,"y":27.8},{"s":"40 % rGFRP extruded","c":"e4","x":0.11,"y":27.7},{"s":"40 % rGFRP extruded","c":"e4","x":0.115,"y":27.3},{"s":"40 % rGFRP extruded","c":"e4","x":0.117,"y":26.7},{"s":"40 % rGFRP extruded","c":"e4","x":0.1187,"y":25.9},
{"s":"40 % rGFRP extrudated & aged","c":"k1","x":0,"y":0},{"s":"40 % rGFRP extrudated & aged","c":"k1","x":0.005,"y":7.6},{"s":"40 % rGFRP extrudated & aged","c":"k1","x":0.01,"y":13.2},{"s":"40 % rGFRP extrudated & aged","c":"k1","x":0.015,"y":17.6},{"s":"40 % rGFRP extrudated & aged","c":"k1","x":0.02,"y":20.8},{"s":"40 % rGFRP extrudated & aged","c":"k1","x":0.03,"y":24},{"s":"40 % rGFRP extrudated & aged","c":"k1","x":0.04,"y":26.5},{"s":"40 % rGFRP extrudated & aged","c":"k1","x":0.05,"y":28.5},{"s":"40 % rGFRP extrudated & aged","c":"k1","x":0.06,"y":30.2},{"s":"40 % rGFRP extrudated & aged","c":"k1","x":0.07,"y":31.4},{"s":"40 % rGFRP extrudated & aged","c":"k1","x":0.08,"y":32.3},{"s":"40 % rGFRP extrudated & aged","c":"k1","x":0.09,"y":32.9},{"s":"40 % rGFRP extrudated & aged","c":"k1","x":0.0935,"y":33},{"s":"40 % rGFRP extrudated & aged","c":"k1","x":0.094,"y":30.5},{"s":"40 % rGFRP extrudated & aged","c":"k1","x":0.0945,"y":28.5},
{"s":"40 % rGFRP extrudated & aged","c":"k2","x":0,"y":0},{"s":"40 % rGFRP extrudated & aged","c":"k2","x":0.005,"y":7.5},{"s":"40 % rGFRP extrudated & aged","c":"k2","x":0.01,"y":13},{"s":"40 % rGFRP extrudated & aged","c":"k2","x":0.015,"y":17.4},{"s":"40 % rGFRP extrudated & aged","c":"k2","x":0.02,"y":20.5},{"s":"40 % rGFRP extrudated & aged","c":"k2","x":0.03,"y":23.6},{"s":"40 % rGFRP extrudated & aged","c":"k2","x":0.04,"y":26},{"s":"40 % rGFRP extrudated & aged","c":"k2","x":0.05,"y":28},{"s":"40 % rGFRP extrudated & aged","c":"k2","x":0.06,"y":29.7},{"s":"40 % rGFRP extrudated & aged","c":"k2","x":0.07,"y":31},{"s":"40 % rGFRP extrudated & aged","c":"k2","x":0.08,"y":32},{"s":"40 % rGFRP extrudated & aged","c":"k2","x":0.09,"y":32.8},{"s":"40 % rGFRP extrudated & aged","c":"k2","x":0.1,"y":33.4},{"s":"40 % rGFRP extrudated & aged","c":"k2","x":0.11,"y":34},{"s":"40 % rGFRP extrudated & aged","c":"k2","x":0.12,"y":34.5},{"s":"40 % rGFRP extrudated & aged","c":"k2","x":0.13,"y":34.9},{"s":"40 % rGFRP extrudated & aged","c":"k2","x":0.14,"y":35.2},{"s":"40 % rGFRP extrudated & aged","c":"k2","x":0.1436,"y":35.2},{"s":"40 % rGFRP extrudated & aged","c":"k2","x":0.1442,"y":32.9},
{"s":"40 % rGFRP extrudated & aged","c":"k3","x":0,"y":0},{"s":"40 % rGFRP extrudated & aged","c":"k3","x":0.005,"y":7.4},{"s":"40 % rGFRP extrudated & aged","c":"k3","x":0.01,"y":12.9},{"s":"40 % rGFRP extrudated & aged","c":"k3","x":0.015,"y":17.2},{"s":"40 % rGFRP extrudated & aged","c":"k3","x":0.02,"y":20.2},{"s":"40 % rGFRP extrudated & aged","c":"k3","x":0.03,"y":23},{"s":"40 % rGFRP extrudated & aged","c":"k3","x":0.04,"y":25.2},{"s":"40 % rGFRP extrudated & aged","c":"k3","x":0.05,"y":27},{"s":"40 % rGFRP extrudated & aged","c":"k3","x":0.06,"y":28.6},{"s":"40 % rGFRP extrudated & aged","c":"k3","x":0.07,"y":29.9},{"s":"40 % rGFRP extrudated & aged","c":"k3","x":0.08,"y":30.9},{"s":"40 % rGFRP extrudated & aged","c":"k3","x":0.09,"y":31.8},{"s":"40 % rGFRP extrudated & aged","c":"k3","x":0.1,"y":32.6},{"s":"40 % rGFRP extrudated & aged","c":"k3","x":0.11,"y":33.3},{"s":"40 % rGFRP extrudated & aged","c":"k3","x":0.12,"y":33.8},{"s":"40 % rGFRP extrudated & aged","c":"k3","x":0.13,"y":34.2},{"s":"40 % rGFRP extrudated & aged","c":"k3","x":0.134,"y":34.3},{"s":"40 % rGFRP extrudated & aged","c":"k3","x":0.1346,"y":31},
{"s":"40 % rGFRP extrudated & aged","c":"k4","x":0,"y":0},{"s":"40 % rGFRP extrudated & aged","c":"k4","x":0.005,"y":7.3},{"s":"40 % rGFRP extrudated & aged","c":"k4","x":0.01,"y":12.8},{"s":"40 % rGFRP extrudated & aged","c":"k4","x":0.015,"y":17},{"s":"40 % rGFRP extrudated & aged","c":"k4","x":0.02,"y":20},{"s":"40 % rGFRP extrudated & aged","c":"k4","x":0.03,"y":22.8},{"s":"40 % rGFRP extrudated & aged","c":"k4","x":0.04,"y":24.8},{"s":"40 % rGFRP extrudated & aged","c":"k4","x":0.05,"y":26.5},{"s":"40 % rGFRP extrudated & aged","c":"k4","x":0.06,"y":27.9},{"s":"40 % rGFRP extrudated & aged","c":"k4","x":0.07,"y":29},{"s":"40 % rGFRP extrudated & aged","c":"k4","x":0.08,"y":29.9},{"s":"40 % rGFRP extrudated & aged","c":"k4","x":0.09,"y":30.6},{"s":"40 % rGFRP extrudated & aged","c":"k4","x":0.1,"y":31.1},{"s":"40 % rGFRP extrudated & aged","c":"k4","x":0.11,"y":31.5},{"s":"40 % rGFRP extrudated & aged","c":"k4","x":0.12,"y":31.8},{"s":"40 % rGFRP extrudated & aged","c":"k4","x":0.1245,"y":31.9},{"s":"40 % rGFRP extrudated & aged","c":"k4","x":0.125,"y":28},{"s":"40 % rGFRP extrudated & aged","c":"k4","x":0.1255,"y":25.5},
{"s":"40 % rGFRP extrudated & aged","c":"k5","x":0,"y":0},{"s":"40 % rGFRP extrudated & aged","c":"k5","x":0.005,"y":7.3},{"s":"40 % rGFRP extrudated & aged","c":"k5","x":0.01,"y":12.8},{"s":"40 % rGFRP extrudated & aged","c":"k5","x":0.015,"y":17.1},{"s":"40 % rGFRP extrudated & aged","c":"k5","x":0.02,"y":20.1},{"s":"40 % rGFRP extrudated & aged","c":"k5","x":0.03,"y":23},{"s":"40 % rGFRP extrudated & aged","c":"k5","x":0.04,"y":25.1},{"s":"40 % rGFRP extrudated & aged","c":"k5","x":0.05,"y":26.9},{"s":"40 % rGFRP extrudated & aged","c":"k5","x":0.06,"y":28.3},{"s":"40 % rGFRP extrudated & aged","c":"k5","x":0.07,"y":29.5},{"s":"40 % rGFRP extrudated & aged","c":"k5","x":0.08,"y":30.4},{"s":"40 % rGFRP extrudated & aged","c":"k5","x":0.09,"y":31.1},{"s":"40 % rGFRP extrudated & aged","c":"k5","x":0.1035,"y":31.9},{"s":"40 % rGFRP extrudated & aged","c":"k5","x":0.115,"y":32.3},{"s":"40 % rGFRP extrudated & aged","c":"k5","x":0.127,"y":32.6},{"s":"40 % rGFRP extrudated & aged","c":"k5","x":0.144,"y":32.9},{"s":"40 % rGFRP extrudated & aged","c":"k5","x":0.148,"y":34},{"s":"40 % rGFRP extrudated & aged","c":"k5","x":0.15,"y":34.5},{"s":"40 % rGFRP extrudated & aged","c":"k5","x":0.158,"y":34.8},{"s":"40 % rGFRP extrudated & aged","c":"k5","x":0.166,"y":34.8},{"s":"40 % rGFRP extrudated & aged","c":"k5","x":0.1683,"y":32.7}
]
},
"hconcat": [
{
"width": 284, "height": 190,
"data": {"name": "a"},
"title": {"text": "(a)", "orient": "bottom", "offset": 27, "dx": -9},
"mark": {"type": "line", "strokeWidth": 1.3, "interpolate": "monotone"},
"encoding": {
"x": {"field": "x", "type": "quantitative", "scale": {"domain": [0, 0.5], "nice": false, "zero": true},
"axis": {"title": "Strain [-]", "values": [0,0.02,0.04,0.06,0.08,0.1,0.12,0.14,0.16,0.18,0.2,0.22,0.24,0.26,0.28,0.3,0.32,0.34,0.36,0.38,0.4,0.42,0.44,0.46,0.48,0.5],
"labelExpr": "abs(datum.value*10 - round(datum.value*10)) < 0.001 ? format(datum.value, '.1f') : ''",
"gridColor": {"condition": {"test": "abs(datum.value*10 - round(datum.value*10)) < 0.001", "value": "#ababab"}, "value": "#e4e4e4"},
"gridOpacity": {"condition": {"test": "datum.value > 0.49", "value": 0}, "value": 1},
"tickSize": {"condition": {"test": "abs(datum.value*10 - round(datum.value*10)) < 0.001", "value": 5}, "value": 3}}},
"y": {"field": "y", "type": "quantitative", "scale": {"domain": [0, 40], "nice": false},
"axis": {"title": "Stress [MPa]", "values": [0,2,4,6,8,10,12,14,16,18,20,22,24,26,28,30,32,34,36,38,40],
"labelExpr": "datum.value % 10 === 0 ? datum.label : ''",
"gridColor": {"condition": {"test": "datum.value % 10 === 0", "value": "#ababab"}, "value": "#e4e4e4"},
"gridOpacity": {"condition": {"test": "datum.value > 39", "value": 0}, "value": 1},
"tickSize": {"condition": {"test": "datum.value % 10 === 0", "value": 5}, "value": 3}}},
"color": {"field": "s", "type": "nominal",
"scale": {"domain": ["0 % rGFRP", "10 % rGFRP", "20 % rGFRP", "30 % rGFRP", "40 % rGFRP"], "range": ["#9e0a0a", "#1f8f1f", "#9c9a10", "#ee2aee", "#1414d8"]},
"legend": {"legendX": 164, "legendY": 95, "symbolType": "M-3,0H3", "symbolSize": 100}},
"detail": {"field": "c", "type": "nominal"}
}
},
{
"width": 286, "height": 190,
"data": {"name": "b"},
"title": {"text": "(b)", "orient": "bottom", "offset": 27, "dx": -20},
"mark": {"type": "line", "strokeWidth": 1.3, "interpolate": "monotone"},
"encoding": {
"x": {"field": "x", "type": "quantitative", "scale": {"domain": [0, 0.2], "nice": false, "zero": true},
"axis": {"title": "Strain [-]", "values": [0,0.01,0.02,0.03,0.04,0.05,0.06,0.07,0.08,0.09,0.1,0.11,0.12,0.13,0.14,0.15,0.16,0.17,0.18,0.19,0.2],
"labelExpr": "abs(datum.value*20 - round(datum.value*20)) < 0.001 ? format(datum.value, '.2f') : ''",
"gridColor": {"condition": {"test": "abs(datum.value*20 - round(datum.value*20)) < 0.001", "value": "#ababab"}, "value": "#e4e4e4"},
"gridOpacity": {"condition": {"test": "datum.value > 0.199", "value": 0}, "value": 1},
"tickSize": {"condition": {"test": "abs(datum.value*20 - round(datum.value*20)) < 0.001", "value": 5}, "value": 3}}},
"y": {"field": "y", "type": "quantitative", "scale": {"domain": [0, 40], "nice": false},
"axis": {"title": "Stress [MPa]", "values": [0,2,4,6,8,10,12,14,16,18,20,22,24,26,28,30,32,34,36,38,40],
"labelExpr": "datum.value % 10 === 0 ? datum.label : ''",
"gridColor": {"condition": {"test": "datum.value % 10 === 0", "value": "#ababab"}, "value": "#e4e4e4"},
"gridOpacity": {"condition": {"test": "datum.value > 39", "value": 0}, "value": 1},
"tickSize": {"condition": {"test": "datum.value % 10 === 0", "value": 5}, "value": 3}}},
"color": {"field": "s", "type": "nominal",
"scale": {"domain": ["40 % rGFRP", "40 % rGFRP aged", "40 % rGFRP extruded", "40 % rGFRP extrudated & aged"], "range": ["#1a1ae8", "#f21c1c", "#2ad62a", "#000000"]},
"legend": {"legendX": 63, "legendY": 111, "symbolType": "M-3,0H3", "symbolSize": 100}},
"detail": {"field": "c", "type": "nominal"}
}
}
],
"spacing": 151,
"bounds": "flush",
"resolve": {"scale": {"color": "independent", "x": "independent", "y": "independent"}, "legend": {"color": "independent"}},
"config": {
"view": {"stroke": "#3c3c3c", "strokeWidth": 1},
"axis": {"labelFont": "Liberation Serif", "labelFontStyle": "italic", "labelFontSize": 12, "labelColor": "#1a1a1a", "titleFont": "Liberation Serif", "titleFontStyle": "italic", "titleFontSize": 12, "titleFontWeight": "normal", "titleColor": "#1a1a1a", "domainColor": "#000000", "tickColor": "#000000", "labelOverlap": false, "labelBound": false, "labelFlush": false, "labelPadding": 4, "titlePadding": 5, "gridWidth": 1},
"legend": {"orient": "none", "title": null, "symbolStrokeWidth": 1.6, "symbolOffset": 6.5, "labelFont": "Liberation Serif", "labelFontStyle": "italic", "labelFontSize": 12.3, "labelColor": "#111111", "labelOffset": 21, "strokeColor": "#333333", "fillColor": "#ffffff", "padding": 10, "rowPadding": 2.25, "labelLimit": 300},
"title": {"font": "Liberation Serif", "fontSize": 13, "fontWeight": "bold", "color": "#000000"}
}
}
